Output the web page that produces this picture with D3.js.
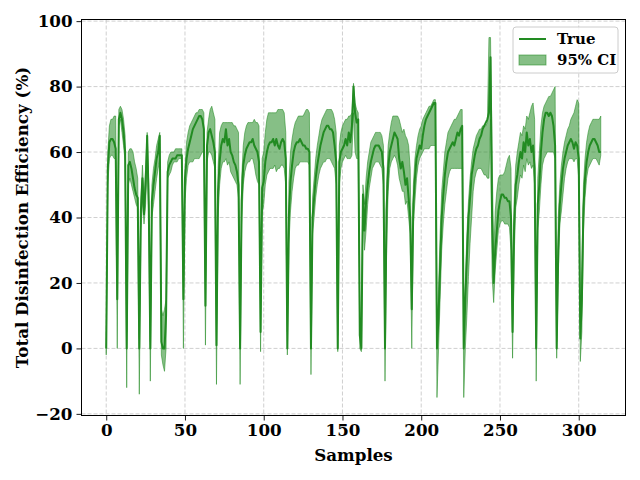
<!DOCTYPE html>
<html>
<head>
<meta charset="utf-8">
<script src="https://cdn.jsdelivr.net/npm/d3@7"></script>
<style>
  body { margin: 0; background: #fff; }
  svg { display: block; font-family: "DejaVu Serif", serif; font-weight: bold; }
</style>
</head>
<body>
<svg id="chart" width="640" height="480"></svg>
<script>
// true efficiency per sample (index = sample number)
const trueVals = [
  0, 55, 63, 64, 64, 63, 61, 15, 70, 72,
  70, 66, 60, 0, 56, 57, 55, 52, 49, 47,
  46, 0, 42, 52, 41, 50, 65, 44, 0, 45,
  50, 54, 58, 60, 65, 2, 0, 0, 10, 54,
  56, 57, 58, 58, 58, 59, 59, 59, 59, 15,
  52, 58, 61, 63, 65, 67, 68, 69, 70, 71,
  71, 70, 67, 13, 62, 66, 67, 65, 63, 60,
  1, 48, 57, 62, 64, 63, 67, 62, 64, 60,
  59, 57, 56, 54, 50, 0, 45, 56, 59, 61,
  62, 63, 63, 64, 62, 61, 60, 57, 5, 49,
  51, 57, 60, 62, 63, 63, 64, 62, 64, 62,
  61, 63, 64, 63, 58, 0, 41, 51, 56, 60,
  62, 63, 63, 64, 63, 62, 62, 61, 61, 60,
  0, 40, 46, 52, 56, 59, 62, 64, 66, 67,
  68, 68, 67, 67, 66, 62, 57, 0, 57, 60,
  61, 62, 64, 62, 66, 63, 68, 80, 72, 69,
  70, 4, 0, 47, 36, 45, 50, 54, 57, 59,
  61, 62, 62, 62, 61, 60, 55, 0, 42, 55,
  60, 62, 64, 66, 65, 64, 58, 55, 57, 54,
  50, 52, 46, 40, 12, 44, 52, 58, 60, 62,
  61, 65, 68, 70, 71, 72, 73, 74, 75, 75,
  0, 10, 25, 40, 47, 53, 57, 60, 61, 62,
  63, 62, 64, 66, 65, 67, 68, 0, 15, 28,
  40, 46, 53, 56, 59, 61, 62, 64, 65, 67,
  68, 69, 70, 72, 89, 40, 20, 30, 36, 42,
  45, 47, 47, 46, 46, 45, 45, 40, 5, 38,
  50, 53, 57, 60, 58, 63, 60, 66, 62, 64,
  60, 62, 55, 0, 44, 50, 60, 66, 70, 72,
  72, 71, 72, 71, 68, 62, 0, 30, 44, 50,
  55, 58, 60, 62, 63, 64, 63, 61, 63, 62,
  58, 3, 15, 43, 52, 57, 60, 62, 63, 64,
  64, 63, 62, 60, 60
];

// lower bound of the 95% CI
const lowerCI = [
  -2, 50, 58, 59, 59, 58, 58, 0, 68, 70,
  66, 62, 57, -12, 50, 52, 50, 48, 46, 44,
  43, -14, 36, 45, 38, 44, 58, 40, -10, 40,
  44, 48, 52, 55, 58, -2, -5, -7, 0, 52,
  53, 54, 56, 57, 57, 57, 58, 58, 58, 0,
  45, 52, 56, 57, 57, 57, 58, 58, 58, 58,
  59, 60, 60, 1, 57, 60, 60, 59, 57, 55,
  -11, 40, 50, 55, 57, 57, 58, 56, 57, 54,
  53, 52, 51, 50, 46, -11, 38, 50, 54, 56,
  57, 57, 58, 58, 56, 53, 51, 50, -1, 41,
  44, 50, 53, 54, 55, 55, 55, 56, 54, 55,
  55, 56, 56, 55, 50, -2, 32, 42, 48, 52,
  55, 56, 56, 57, 57, 57, 57, 57, 57, 56,
  -8, 35, 40, 46, 50, 53, 55, 56, 57, 57,
  58, 58, 58, 57, 56, 55, 50, -1, 50, 55,
  57, 58, 59, 58, 58, 58, 59, 72, 60, 58,
  58, 0, -1, 44, 30, 36, 44, 49, 52, 55,
  56, 57, 57, 57, 56, 55, 50, -10, 30, 48,
  55, 57, 58, 59, 58, 56, 52, 50, 48, 48,
  44, 45, 40, 35, 0, 38, 45, 52, 56, 58,
  59, 60, 61, 61, 61, 61, 62, 62, 62, 62,
  -15, 0, 15, 30, 38, 44, 48, 52, 54, 55,
  55, 55, 55, 55, 55, 55, 55, -15, 0, 10,
  22, 32, 40, 48, 52, 54, 55, 55, 55, 54,
  53, 53, 52, 52, 70, 22, 14, 24, 30, 36,
  38, 39, 39, 38, 38, 38, 37, 30, -3, 28,
  43, 46, 50, 53, 52, 56, 54, 58, 56, 57,
  55, 56, 50, -10, 36, 42, 50, 56, 58, 59,
  60, 60, 60, 60, 60, 58, -3, 22, 38, 42,
  47, 52, 55, 57, 58, 58, 58, 57, 58, 58,
  52, -4, 5, 36, 46, 52, 55, 56, 57, 58,
  58, 58, 57, 56, 59
];

// upper bound of the 95% CI
const upperCI = [
  2, 60, 68, 70, 70, 71, 71, 20, 73, 74,
  73, 70, 65, 5, 60, 61, 61, 60, 57, 55,
  52, 3, 46, 56, 46, 55, 66, 50, 2, 50,
  55, 58, 62, 64, 66, 12, 10, 12, 15, 57,
  59, 60, 60, 60, 61, 61, 61, 61, 61, 20,
  55, 63, 66, 68, 69, 70, 71, 72, 72, 73,
  73, 73, 72, 18, 66, 70, 73, 74, 72, 70,
  5, 55, 66, 68, 69, 69, 69, 69, 69, 69,
  69, 68, 68, 67, 66, 3, 52, 62, 66, 68,
  69, 69, 69, 69, 70, 69, 69, 68, 12, 58,
  60, 66, 70, 72, 72, 72, 72, 72, 72, 73,
  73, 73, 73, 72, 66, 5, 51, 60, 64, 67,
  69, 70, 71, 71, 71, 71, 72, 73, 73, 72,
  3, 46, 52, 58, 62, 65, 68, 70, 71, 72,
  73, 73, 73, 73, 72, 70, 66, 4, 62, 66,
  68, 69, 70, 70, 71, 71, 72, 81, 75, 73,
  72, 10, 5, 50, 44, 52, 57, 60, 63, 64,
  65, 66, 66, 66, 66, 65, 62, 3, 50, 62,
  66, 69, 71, 71, 71, 71, 70, 68, 66, 67,
  65, 64, 62, 55, 20, 50, 58, 62, 65, 67,
  68, 70, 71, 72, 73, 74, 74, 75, 76, 76,
  5, 18, 35, 48, 54, 60, 63, 66, 67, 68,
  69, 70, 70, 71, 72, 73, 73, 3, 20, 35,
  45, 52, 57, 61, 63, 65, 66, 67, 67, 68,
  68, 68, 69, 95, 95, 60, 28, 42, 48, 52,
  53, 53, 53, 54, 56, 58, 59, 55, 10, 45,
  56, 60, 63, 66, 65, 68, 67, 71, 70, 72,
  74, 75, 70, 3, 52, 60, 68, 72, 74, 75,
  76, 77, 77, 78, 79, 80, 2, 40, 50, 56,
  60, 63, 65, 67, 68, 70, 71, 72, 74, 76,
  75, 8, 25, 50, 58, 63, 66, 68, 69, 70,
  70, 70, 70, 70, 71
];

const xTicks = [0, 50, 100, 150, 200, 250, 300];
const yTicks = [-20, 0, 20, 40, 60, 80, 100];
const legendLabels = ["True", "95% CI"];

const lineColor = "#228b22";
const fillColor = "#228b22";

const svg = d3.select("#chart");
const plotLeft = 81.5, plotRight = 625.5, plotTop = 19.5, plotBottom = 415.5;

const data = trueVals.map((v, i) => ({ i, v, lo: lowerCI[i], hi: upperCI[i] }));

const x = d3.scaleLinear().domain([-15.7, 329.7]).range([plotLeft, plotRight]);
const y = d3.scaleLinear().domain([-20.5, 100.5]).range([plotBottom, plotTop]);

svg.append("rect").attr("width", 640).attr("height", 480).attr("fill", "#fff");

// grid
const grid = svg.append("g")
  .attr("stroke", "#c4c4c4")
  .attr("stroke-width", 0.8)
  .attr("stroke-dasharray", "4,2");
grid.selectAll(".gx").data(xTicks).join("line")
  .attr("x1", d => x(d)).attr("x2", d => x(d))
  .attr("y1", plotTop).attr("y2", plotBottom);
grid.selectAll(".gy").data(yTicks).join("line")
  .attr("x1", plotLeft).attr("x2", plotRight)
  .attr("y1", d => y(d)).attr("y2", d => y(d));

// confidence band
const area = d3.area()
  .x(d => x(d.i))
  .y0(d => y(d.lo))
  .y1(d => y(d.hi));

svg.append("path")
  .datum(data)
  .attr("d", area)
  .attr("fill", fillColor)
  .attr("fill-opacity", 0.55)
  .attr("stroke", fillColor)
  .attr("stroke-opacity", 0.55)
  .attr("stroke-width", 1);

const line = d3.line()
  .x(d => x(d.i))
  .y(d => y(d.v));

svg.append("path")
  .datum(data)
  .attr("d", line)
  .attr("fill", "none")
  .attr("stroke", lineColor)
  .attr("stroke-width", 2)
  .attr("stroke-linejoin", "round");

// axes
const xAxis = svg.append("g")
  .attr("transform", `translate(0,${plotBottom})`)
  .call(d3.axisBottom(x).tickValues(xTicks).tickSize(5).tickPadding(4));
const yAxis = svg.append("g")
  .attr("transform", `translate(${plotLeft},0)`)
  .call(d3.axisLeft(y).tickValues(yTicks).tickSize(5).tickPadding(4));

[xAxis, yAxis].forEach(g => {
  g.select(".domain").remove();
  g.selectAll(".tick line").attr("stroke", "#000").attr("stroke-width", 0.9);
  g.selectAll(".tick text")
    .attr("fill", "#000")
    .style("font-family", "DejaVu Serif")
    .style("font-weight", "bold")
    .style("font-size", "16.7px");
});

svg.append("rect")
  .attr("x", plotLeft).attr("y", plotTop)
  .attr("width", plotRight - plotLeft).attr("height", plotBottom - plotTop)
  .attr("fill", "none").attr("stroke", "#000").attr("stroke-width", 1);

// labels
svg.append("text")
  .attr("x", (plotLeft + plotRight) / 2).attr("y", 461)
  .attr("text-anchor", "middle")
  .style("font-size", "16.7px")
  .text("Samples");

svg.append("text")
  .attr("transform", `translate(28,${(plotTop + plotBottom) / 2}) rotate(-90)`)
  .attr("text-anchor", "middle")
  .style("font-size", "16.7px")
  .text("Total Disinfection Efficiency (%)");

// legend
const lg = svg.append("g").attr("transform", "translate(513,27)");
lg.append("rect")
  .attr("width", 105).attr("height", 46)
  .attr("rx", 3)
  .attr("fill", "#fff").attr("fill-opacity", 0.8)
  .attr("stroke", "#ccc");
lg.append("line")
  .attr("x1", 6).attr("x2", 33).attr("y1", 12).attr("y2", 12)
  .attr("stroke", lineColor).attr("stroke-width", 2);
lg.append("rect")
  .attr("x", 6).attr("y", 28).attr("width", 27).attr("height", 10)
  .attr("fill", fillColor).attr("fill-opacity", 0.55)
  .attr("stroke", fillColor).attr("stroke-opacity", 0.55);
lg.selectAll(".lt").data(legendLabels).join("text")
  .attr("x", 44).attr("y", (d, k) => 17 + k * 21)
  .style("font-size", "15px")
  .text(d => d);
</script>
</body>
</html>
